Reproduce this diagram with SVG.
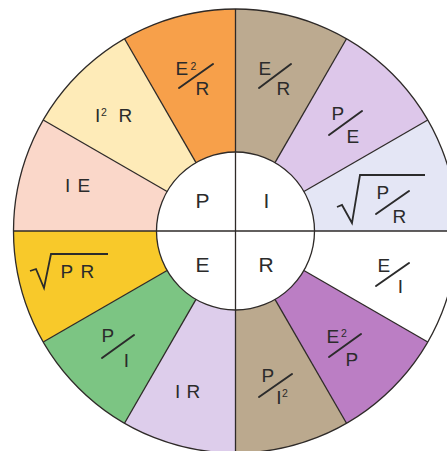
<svg xmlns="http://www.w3.org/2000/svg" width="447" height="451" viewBox="0 0 447 451">
<style>
.w{stroke:none}
.t{font-family:"Liberation Sans",Arial,sans-serif;font-size:19px;fill:#2b2b2b}
.c{font-family:"Liberation Sans",Arial,sans-serif;font-size:21px;fill:#2b2b2b}
.s{font-family:"Liberation Sans",Arial,sans-serif;font-size:10.5px;fill:#2b2b2b}
.m{text-anchor:middle}
.ln{stroke:#2e2a28;stroke-width:1.3;fill:none}
.sl{stroke:#2b2b2b;stroke-width:2;fill:none;stroke-linecap:round}
.rad{stroke:#2b2b2b;stroke-width:1.8;fill:none;stroke-linejoin:miter}
</style>
<rect width="447" height="451" fill="#ffffff"/>
<g id="wedges">
<g id="w-E2R"><path class="w" fill="#F7A04A" d="M235.5 231L124.5 38.74A222 222 0 0 1 235.5 9Z"/>
<text class="t" x="175.5" y="75">E</text><text class="s" x="190.5" y="70">2</text><line class="sl" x1="179" y1="88" x2="213" y2="64"/><text class="t" x="195.5" y="95">R</text></g>
<g id="w-ER"><path class="w" fill="#BCAA90" d="M235.5 231L235.5 9A222 222 0 0 1 346.5 38.74Z"/>
<text class="t" x="258.5" y="75">E</text><line class="sl" x1="259" y1="88" x2="291" y2="64"/><text class="t" x="276.5" y="95">R</text></g>
<g id="w-PE"><path class="w" fill="#DDC7EA" d="M235.5 231L346.5 38.74A222 222 0 0 1 427.76 120Z"/>
<text class="t" x="331.5" y="120">P</text><line class="sl" x1="329" y1="135" x2="362" y2="111"/><text class="t" x="346.5" y="143">E</text></g>
<g id="w-sqrtPR2"><path class="w" fill="#E4E6F5" d="M235.5 231L427.76 120A222 222 0 0 1 457.5 231Z"/>
<polyline class="rad" points="337,207 342,205 352,223 360,175 425,175"/>
<text class="t" x="376.5" y="199">P</text><line class="sl" x1="376" y1="214" x2="409" y2="191"/><text class="t" x="392.5" y="223">R</text></g>
<g id="w-EI"><path class="w" fill="#FFFFFF" d="M235.5 231L457.5 231A222 222 0 0 1 427.76 342Z"/>
<text class="t" x="377.5" y="272">E</text><line class="sl" x1="376" y1="286" x2="409" y2="263"/><text class="t m" x="400.5" y="293">I</text></g>
<g id="w-E2P"><path class="w" fill="#BB7EC4" d="M235.5 231L427.76 342A222 222 0 0 1 346.5 423.26Z"/>
<text class="t" x="326.5" y="343">E</text><text class="s" x="341" y="337">2</text><line class="sl" x1="329" y1="357" x2="361" y2="334"/><text class="t" x="345.5" y="366">P</text></g>
<g id="w-PI2"><path class="w" fill="#BBA98E" d="M235.5 231L346.5 423.26A222 222 0 0 1 235.5 453Z"/>
<text class="t" x="261.5" y="382">P</text><line class="sl" x1="259" y1="397" x2="292" y2="374"/><text class="t m" x="279" y="404">I</text><text class="s" x="282" y="397">2</text></g>
<g id="w-IR"><path class="w" fill="#DDCDEB" d="M235.5 231L235.5 453A222 222 0 0 1 124.5 423.26Z"/>
<text class="t" x="175" y="398">I</text><text class="t" x="186.5" y="398">R</text></g>
<g id="w-PI"><path class="w" fill="#7CC583" d="M235.5 231L124.5 423.26A222 222 0 0 1 43.24 342Z"/>
<text class="t" x="101.5" y="342">P</text><line class="sl" x1="102" y1="358" x2="134" y2="335"/><text class="t m" x="126.5" y="367">I</text></g>
<g id="w-sqrtPR"><path class="w" fill="#F8C92A" d="M235.5 231L43.24 342A222 222 0 0 1 13.5 231Z"/>
<polyline class="rad" points="30,271 36,269 44,288 51,254 108,254"/>
<text class="t" x="60.5" y="278">P</text><text class="t" x="80.5" y="278">R</text></g>
<g id="w-IE"><path class="w" fill="#FAD7C9" d="M235.5 231L13.5 231A222 222 0 0 1 43.24 120Z"/>
<text class="t" x="65" y="192">I</text><text class="t" x="77.5" y="192">E</text></g>
<g id="w-I2R"><path class="w" fill="#FEEBB8" d="M235.5 231L43.24 120A222 222 0 0 1 124.5 38.74Z"/>
<text class="t" x="95" y="122">I</text><text class="s" x="101" y="116">2</text><text class="t" x="118.5" y="122">R</text></g>
</g>
<g id="center">
<circle cx="235.5" cy="231" r="79" fill="#ffffff"/>
<text class="c" x="195.5" y="208">P</text>
<text class="c m" x="266.5" y="208">I</text>
<text class="c" x="195.5" y="271.5">E</text>
<text class="c" x="258.5" y="271.5">R</text>
</g>
<g id="connectors">
<circle class="ln" cx="235.5" cy="231" r="222"/>
<circle class="ln" cx="235.5" cy="231" r="79"/>
<line class="ln" x1="235.5" y1="9" x2="235.5" y2="453"/>
<line class="ln" x1="13.5" y1="231" x2="457.5" y2="231"/>
<line class="ln" x1="303.91" y1="270.5" x2="427.76" y2="342"/>
<line class="ln" x1="275" y1="299.41" x2="346.5" y2="423.26"/>
<line class="ln" x1="196" y1="299.41" x2="124.5" y2="423.26"/>
<line class="ln" x1="167.09" y1="270.5" x2="43.24" y2="342"/>
<line class="ln" x1="167.09" y1="191.5" x2="43.24" y2="120"/>
<line class="ln" x1="196" y1="162.59" x2="124.5" y2="38.74"/>
<line class="ln" x1="275" y1="162.59" x2="346.5" y2="38.74"/>
<line class="ln" x1="303.91" y1="191.5" x2="427.76" y2="120"/>
</g>
</svg>
